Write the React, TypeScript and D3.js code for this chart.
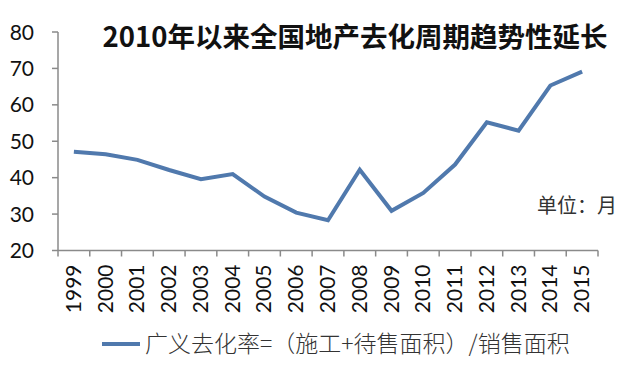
import React from "react";
import * as d3 from "d3";

const years = ["1999","2000","2001","2002","2003","2004","2005","2006","2007","2008","2009","2010","2011","2012","2013","2014","2015"];
const values = [47.1, 46.4, 44.9, 42.1, 39.6, 41.0, 34.8, 30.4, 28.3, 42.2, 30.9, 35.8, 43.6, 55.2, 52.9, 65.3, 69.1];
const yTicks = [20, 30, 40, 50, 60, 70, 80];
const title = "2010年以来全国地产去化周期趋势性延长";
const unitLabel = "单位：月";
const legendLabel = "广义去化率=（施工+待售面积）/销售面积";

export default function App() {
  const W = 638, H = 377;
  const left = 58, right = 598, top = 32, bottom = 250.5;
  const x = d3.scaleBand<string>().domain(years).range([left, right]);
  const y = d3.scaleLinear().domain([20, 80]).range([bottom, top]);
  const line = d3.line<number>().x((_, i) => x(years[i])! + x.bandwidth() / 2).y(d => y(d));
  const axisColor = "#8a8a8a";
  const font = "Lato, 'Open Sans', 'Noto Sans', sans-serif";
  const cjk = "'Noto Sans CJK SC', sans-serif";
  return (
    <svg width={W} height={H} style={{ position: "absolute", left: 0, top: 0, background: "#fff" }}>
      <rect width={W} height={H} fill="#fff" />
      <line x1={left} x2={left} y1={top} y2={bottom} stroke={axisColor} strokeWidth={1.5} />
      {yTicks.map(t => (
        <g key={t}>
          <line x1={left - 6} x2={left} y1={y(t)} y2={y(t)} stroke={axisColor} strokeWidth={1.5} />
          <text x={34} y={y(t)} dy="0.36em" textAnchor="end" fontFamily={font} fontSize={21} fill="#111">{t}</text>
        </g>
      ))}
      <line x1={left} x2={right} y1={bottom} y2={bottom} stroke={axisColor} strokeWidth={1.5} />
      {years.map((yr) => (
        <g key={yr}>
          <line x1={x(yr)!} x2={x(yr)!} y1={bottom} y2={bottom + 6} stroke={axisColor} strokeWidth={1.5} />
          <text transform={`translate(${x(yr)! + x.bandwidth() / 2 + 7},${bottom + 14}) rotate(-90)`} textAnchor="end" fontFamily={font} fontSize={21} fill="#111">{yr}</text>
        </g>
      ))}
      <line x1={right} x2={right} y1={bottom} y2={bottom + 6} stroke={axisColor} strokeWidth={1.5} />
      <path d={line(values)!} fill="none" stroke="#5079ad" strokeWidth={4} strokeLinejoin="miter" />
      <text x={355} y={47} textAnchor="middle" fontFamily={cjk} fontSize={27.5} fontWeight={700} fill="#111">{title}</text>
      <text x={537} y={213} fontFamily={cjk} fontSize={20} fill="#333">{unitLabel}</text>
      <line x1={102} x2={140} y1={344} y2={344} stroke="#5079ad" strokeWidth={4} />
      <text x={145} y={352} fontFamily={cjk} fontSize={23} fontWeight={300} fill="#333">{legendLabel}</text>
    </svg>
  );
}
